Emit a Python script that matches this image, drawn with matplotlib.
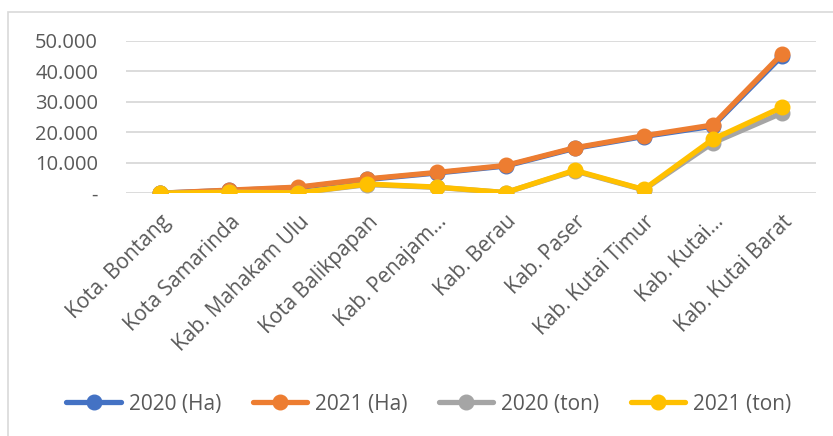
import matplotlib.pyplot as plt
import matplotlib.patches as patches
from matplotlib.ticker import FuncFormatter

plt.rcParams['font.family'] = ['Open Sans', 'DejaVu Sans']

regions = ["Kota. Bontang", "Kota Samarinda", "Kab. Mahakam Ulu", "Kota Balikpapan",
           "Kab. Penajam...", "Kab. Berau", "Kab. Paser", "Kab. Kutai Timur",
           "Kab. Kutai...", "Kab. Kutai Barat"]
ha_2020 = [0, 900, 1800, 4500, 6600, 8900, 14700, 18600, 22000, 45000]
ha_2021 = [0, 1000, 2000, 4700, 6800, 9100, 14900, 18850, 22400, 45700]
ton_2020 = [0, 300, 100, 2800, 1900, 200, 7300, 1100, 16500, 26300]
ton_2021 = [0, 300, 100, 3000, 2000, 200, 7500, 1200, 17700, 28200]

series = [("2020 (Ha)", ha_2020, "#4472C4"),
          ("2021 (Ha)", ha_2021, "#ED7D31"),
          ("2020 (ton)", ton_2020, "#A5A5A5"),
          ("2021 (ton)", ton_2021, "#FFC000")]

fig = plt.figure(figsize=(8.33, 4.36), dpi=100)
ax = fig.add_axes([0.151, 0.557, 0.829, 0.349])

# chart border (only left/top visible in the crop)
fig.patches.append(patches.Rectangle((8 / 833, -0.1), 2, 1.1 - 12 / 436,
                                     transform=fig.transFigure, fill=False,
                                     edgecolor="#d9d9d9", linewidth=1.2))

x = range(len(regions))
for name, vals, col in series:
    ax.plot(x, vals, color=col, linewidth=3.8, marker="o", markersize=10.5,
            label=name, solid_capstyle="round")

ax.set_xlim(-0.5, len(regions) - 0.5)
ax.set_ylim(0, 50000)
ax.set_yticks([0, 10000, 20000, 30000, 40000, 50000])

def fmt(v, pos):
    if v == 0:
        return "-"
    return f"{int(v):,}".replace(",", ".")

ax.yaxis.set_major_formatter(FuncFormatter(fmt))
ax.yaxis.grid(True, color="#d9d9d9", linewidth=1.3)
ax.set_axisbelow(True)
for s in ax.spines.values():
    s.set_visible(False)
ax.tick_params(axis="both", length=0, colors="#595959", labelsize=14.5)
ax.tick_params(axis="y", pad=20)
ax.set_xticks(list(x))
ax.set_xticklabels(regions, rotation=45, ha="right", rotation_mode="anchor")
ax.tick_params(axis="x", pad=13, labelsize=15)

leg = fig.legend(loc="center", bbox_to_anchor=(0.515, 1 - 404 / 436), ncol=4,
                 frameon=False, fontsize=15, handlelength=2.6,
                 handletextpad=0.4, columnspacing=1.5)
for t in leg.get_texts():
    t.set_color("#595959")

fig.savefig("out.png", dpi=100)
